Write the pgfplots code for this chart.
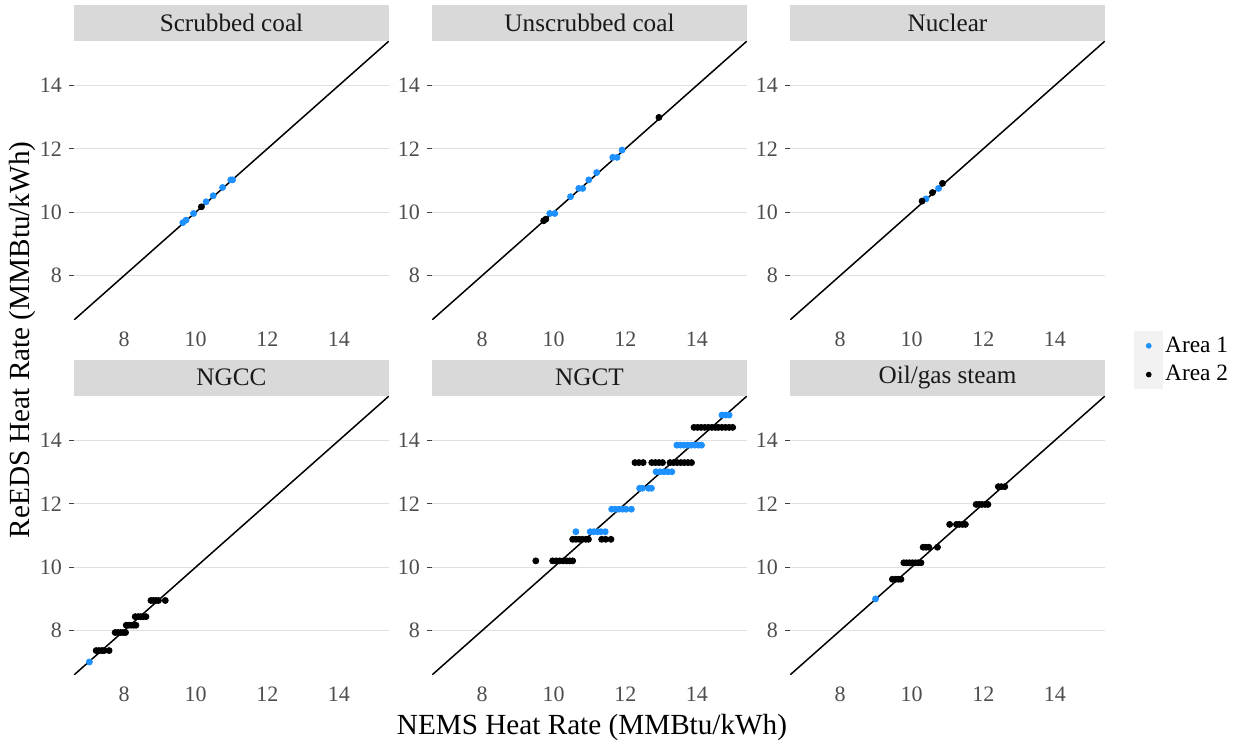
\documentclass[border=0pt]{standalone}
\usepackage{fontspec}
\setmainfont{Liberation Serif}
\usepackage{pgfplots}
\pgfplotsset{compat=1.18}

\definecolor{area1}{HTML}{1E90FF}
\definecolor{strip}{HTML}{D9D9D9}
\definecolor{keybg}{HTML}{F2F2F2}
\definecolor{gridc}{HTML}{E0E0E0}
\definecolor{tickc}{HTML}{4D4D4D}

\pgfplotsset{
  panel/.style={
    width=157.5pt, height=139.5pt, scale only axis,
    xmin=6.6, xmax=15.4, ymin=6.6, ymax=15.4,
    xtick={8,10,12,14}, ytick={8,10,12,14},
    axis x line*=bottom, axis y line*=left,
    axis line style={draw=none},
    ymajorgrids, grid style={line width=0.6pt, gridc},
    tick align=outside, major tick length=2.5pt,
    xtick style={draw=none},
    ytick style={line width=0.6pt, black!75},
    /pgf/number format/assume math mode=true,
    ticklabel style={font=\fontsize{11}{13}\selectfont, text=tickc},
    every axis title shift=0pt,
    title style={at={(0.5,1)}, anchor=south, fill=strip,
      minimum width=157.5pt, minimum height=18pt, inner sep=0pt,
      font=\fontsize{12.6}{14}\selectfont, text=black!90},
  },
  a1/.style={only marks, mark=*, mark size=1.5pt, color=area1},
  a2/.style={only marks, mark=*, mark size=1.5pt, color=black},
  diag/.style={black, line width=0.75pt, forget plot},
}

\begin{document}
\begin{tikzpicture}
\path[use as bounding box] (0,0) rectangle (619.5pt,371pt);

% row 1
\begin{axis}[panel, at={(37pt,211pt)}, anchor=south west, title={Scrubbed coal}]
\addplot[diag] coordinates {(6.6,6.6) (15.4,15.4)};
\addplot[a1] coordinates {(9.64,9.67) (9.73,9.75) (9.94,9.96) (10.29,10.33) (10.49,10.52) (10.75,10.78) (10.98,11.02) (11.03,11.02)};
\addplot[a2] coordinates {(10.16,10.17)};
\end{axis}

\begin{axis}[panel, at={(216pt,211pt)}, anchor=south west, title={Unscrubbed coal}]
\addplot[diag] coordinates {(6.6,6.6) (15.4,15.4)};
\addplot[a1] coordinates {(9.89,9.96) (10.03,9.96) (10.47,10.49) (10.70,10.75) (10.81,10.75) (10.98,11.02) (11.20,11.25) (11.65,11.73) (11.77,11.73) (11.91,11.96)};
\addplot[a2] coordinates {(9.72,9.73) (9.78,9.78) (12.94,12.99)};
\end{axis}

\begin{axis}[panel, at={(395pt,211pt)}, anchor=south west, title={Nuclear}]
\addplot[diag] coordinates {(6.6,6.6) (15.4,15.4)};
\addplot[a1] coordinates {(10.40,10.42) (10.75,10.75)};
\addplot[a2] coordinates {(10.29,10.35) (10.58,10.62) (10.86,10.91)};
\end{axis}

% row 2
\begin{axis}[panel, at={(37pt,33.5pt)}, anchor=south west, title={NGCC}]
\addplot[diag] coordinates {(6.6,6.6) (15.4,15.4)};
\addplot[a1] coordinates {(7.03,7.01)};
\addplot[a2] coordinates {
(7.22,7.37) (7.30,7.37) (7.38,7.37) (7.44,7.37) (7.58,7.37)
(7.75,7.94) (7.83,7.94) (7.90,7.94) (7.97,7.94) (8.04,7.94)
(8.06,8.17) (8.13,8.17) (8.20,8.17) (8.27,8.17) (8.33,8.17)
(8.31,8.44) (8.39,8.44) (8.46,8.44) (8.53,8.44) (8.61,8.44)
(8.75,8.95) (8.82,8.95) (8.89,8.95) (8.96,8.95) (9.15,8.95)};
\end{axis}

\begin{axis}[panel, at={(216pt,33.5pt)}, anchor=south west, title={NGCT}]
\addplot[diag] coordinates {(6.6,6.6) (15.4,15.4)};
\addplot[a1] coordinates {
(10.62,11.12) (11.02,11.12) (11.12,11.12) (11.22,11.12) (11.32,11.12) (11.44,11.12)
(11.62,11.83) (11.72,11.83) (11.82,11.83) (11.92,11.83) (12.02,11.83) (12.17,11.83)
(12.40,12.49) (12.48,12.49) (12.65,12.49) (12.73,12.49)
(12.86,13.01) (12.97,13.01) (13.08,13.01) (13.19,13.01) (13.30,13.01)
(13.44,13.85) (13.54,13.85) (13.64,13.85) (13.74,13.85) (13.84,13.85) (13.94,13.85) (14.04,13.85) (14.13,13.85)
(14.70,14.80) (14.80,14.80) (14.90,14.80)};
\addplot[a2] coordinates {
(9.50,10.20)
(9.97,10.20) (10.07,10.20) (10.17,10.20) (10.27,10.20) (10.37,10.20) (10.45,10.20) (10.53,10.20)
(10.53,10.88) (10.62,10.88) (10.71,10.88) (10.80,10.88) (10.90,10.88) (10.97,10.88)
(11.34,10.88) (11.45,10.88) (11.60,10.88)
(12.27,13.30) (12.38,13.30) (12.50,13.30)
(12.74,13.30) (12.84,13.30) (12.94,13.30) (13.04,13.30)
(13.25,13.30) (13.35,13.30) (13.45,13.30) (13.55,13.30) (13.65,13.30) (13.75,13.30) (13.85,13.30)
(13.92,14.41) (14.02,14.41) (14.12,14.41) (14.22,14.41) (14.32,14.41) (14.42,14.41) (14.52,14.41) (14.60,14.41)
(14.70,14.41) (14.80,14.41) (14.90,14.41) (15.00,14.41)};
\end{axis}

\begin{axis}[panel, at={(395pt,33.5pt)}, anchor=south west, title={Oil/gas steam},
  legend style={at={(axis description cs:1.092,1.233)}, anchor=north west,
    draw=none, fill=none, inner sep=0pt, row sep=0pt,
    font=\fontsize{11.7}{13}\selectfont, nodes={inner sep=1pt}},
  legend cell align=left,
  legend image code/.code={
    \fill[keybg] (-7pt,-7pt) rectangle (7pt,7pt);
    \draw[#1, mark size=1.2pt] plot coordinates {(0pt,0pt)};}]
\addplot[diag] coordinates {(6.6,6.6) (15.4,15.4)};
\addplot[a1] coordinates {(8.99,9.00)};
\addplot[a2] coordinates {
(9.46,9.62) (9.55,9.62) (9.63,9.62) (9.70,9.62)
(9.78,10.14) (9.86,10.14) (9.94,10.14) (10.02,10.14) (10.10,10.14) (10.18,10.14) (10.26,10.14)
(10.32,10.63) (10.40,10.63) (10.48,10.63) (10.72,10.63)
(11.06,11.35) (11.25,11.35) (11.33,11.35) (11.42,11.35) (11.50,11.35)
(11.80,11.98) (11.88,11.98) (11.96,11.98) (12.05,11.98) (12.13,11.98)
(12.42,12.54) (12.50,12.54) (12.60,12.54)};
\legend{Area 1, Area 2}
\end{axis}

\node[rotate=90, font=\fontsize{14.6}{16}\selectfont] at (11pt,201pt) {ReEDS Heat Rate (MMBtu/kWh)};
\node[font=\fontsize{14.6}{16}\selectfont] at (296pt,7.5pt) {NEMS Heat Rate (MMBtu/kWh)};
\end{tikzpicture}
\end{document}
